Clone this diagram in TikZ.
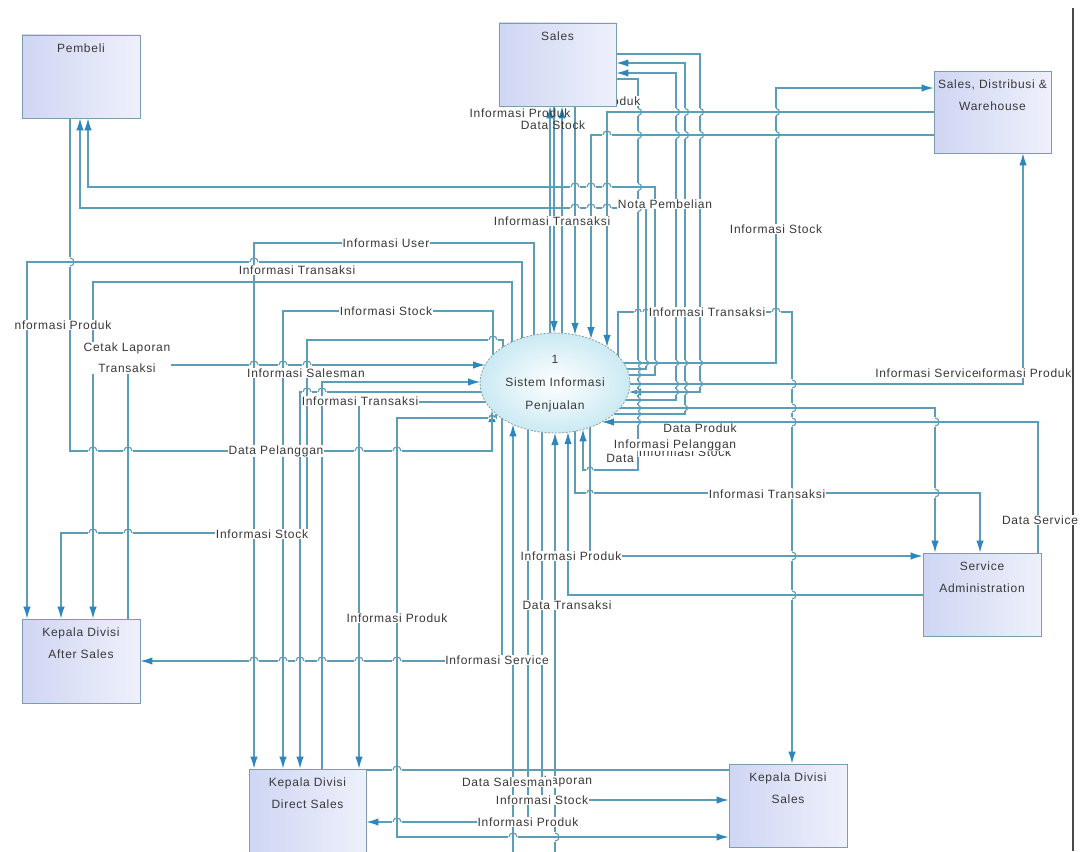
\documentclass[tikz,border=0pt]{standalone}
\usepackage{fontspec}
\setmainfont{Liberation Sans}[LetterSpace=6]
\usetikzlibrary{arrows.meta,calc,shapes.geometric}

\definecolor{flowc}{HTML}{5C9EB7}
\definecolor{tipc}{HTML}{2C87BF}
\definecolor{boxline}{HTML}{7C9DAE}
\definecolor{boxl}{HTML}{CFD6F3}
\definecolor{boxr}{HTML}{EEF0FB}
\definecolor{ellf}{HTML}{CBEAF3}
\definecolor{ellc}{HTML}{8E9CA2}
\definecolor{txt}{HTML}{383838}
\definecolor{framec}{HTML}{4A4A4A}

\newcommand\lbfont{\fontsize{12}{14}\selectfont}

% points on the process ellipse, given an offset from its centre
\newcommand\eTop[2]{\coordinate (#1) at ($(sis.center)+({#2},{-50*sqrt(1-((#2)/75)^2)})$);}
\newcommand\eBot[2]{\coordinate (#1) at ($(sis.center)+({#2},{50*sqrt(1-((#2)/75)^2)})$);}
\newcommand\eLft[2]{\coordinate (#1) at ($(sis.center)+({-75*sqrt(1-((#2)/50)^2)},{#2})$);}
\newcommand\eRgt[2]{\coordinate (#1) at ($(sis.center)+({75*sqrt(1-((#2)/50)^2)},{#2})$);}

% line jumps: horizontal line bridging a vertical one / vertical bridging a horizontal one
\newcommand\hopH[3][4]{%
  \fill[white] ({#2-#1-0.6},{#3-1.3}) rectangle ({#2+#1+0.6},{#3+1.3});
  \draw[flow] (#2,{#3-#1-2}) -- (#2,{#3+#1+2});
  \draw[flow] ({#2-#1},#3) .. controls ({#2-#1},{#3-1.33*#1}) and ({#2+#1},{#3-1.33*#1}) .. ({#2+#1},#3);}
\newcommand\hopV[3][4]{%
  \fill[white] ({#2-1.3},{#3-#1-0.6}) rectangle ({#2+1.3},{#3+#1+0.6});
  \draw[flow] ({#2-#1-2},#3) -- ({#2+#1+2},#3);
  \draw[flow] (#2,{#3-#1}) .. controls ({#2+1.33*#1},{#3-#1}) and ({#2+1.33*#1},{#3+#1}) .. (#2,{#3+#1});}

\pgfdeclarelayer{lines}
\pgfdeclarelayer{labels}
\pgfsetlayers{lines,labels,main}

\tikzset{
  flow/.style={draw=flowc, line width=1.15pt},
  arr/.style={-{Latex[length=12pt,width=7.5pt,color=tipc]}},
  ent/.style={rectangle, draw=boxline, line width=0.9pt, left color=boxl, right color=boxr, inner sep=0pt},
  etext/.style={anchor=north, align=center, font=\fontsize{12}{22}\selectfont, text=txt, inner sep=0pt},
  proc/.style={ellipse, minimum width=150pt, minimum height=100pt, inner sep=0pt,
    draw=ellc, line width=0.8pt, dash pattern=on 2pt off 1.5pt, inner color=white, outer color=ellf},
  lbl/.style={fill=white, inner sep=0.7pt, font=\lbfont, text=txt},
  lblnf/.style={inner sep=0.7pt, font=\lbfont, text=txt},
}

\begin{document}
\begin{tikzpicture}[x=1pt,y=-1pt]
\useasboundingbox (0,0) rectangle (1091,851);

% ---------- entities and process ----------
\node[ent, minimum width=118pt, minimum height=83pt] (pembeli) at (81,76.5) {};
\node[ent, minimum width=117pt, minimum height=83pt] (sales) at (557.5,64.5) {};
\node[ent, minimum width=117pt, minimum height=82pt] (sdw) at (992.5,112) {};
\node[ent, minimum width=118pt, minimum height=84pt] (kdas) at (81,661) {};
\node[ent, minimum width=117pt, minimum height=96pt] (kdds) at (307.5,817) {};
\node[ent, minimum width=118pt, minimum height=83pt] (kds) at (788,805.5) {};
\node[ent, minimum width=118pt, minimum height=83pt] (sa) at (982,594.5) {};
\node[proc] (sis) at (555,383) {};

\node[etext] (pembeli-t) at ([yshift=-9pt]pembeli.north) {Pembeli};
\node[etext] (sales-t) at ([yshift=-9pt]sales.north) {Sales};
\node[etext] (sdw-t) at ([yshift=-9pt]sdw.north) {Sales, Distribusi \&\\Warehouse};
\node[etext] (kdas-t) at ([yshift=-9pt]kdas.north) {Kepala Divisi\\After Sales};
\node[etext] (kdds-t) at ([yshift=-9pt]kdds.north) {Kepala Divisi\\Direct Sales};
\node[etext] (kds-t) at ([yshift=-9pt]kds.north) {Kepala Divisi\\Sales};
\node[etext] (sa-t) at ([yshift=-9pt]sa.north) {Service\\Administration};
\node[align=center, font=\fontsize{12}{23}\selectfont, text=txt, inner sep=0pt] (sis-t) at ([yshift=-1pt]sis.center) {1\\Sistem Informasi\\Penjualan};

% ---------- ports on the ellipse ----------
\eTop{t493}{-62}\eTop{t503}{-52}\eTop{t512}{-43}\eTop{t522}{-33}\eTop{t534}{-21}
\eTop{t550}{-5}\eTop{t554}{-1}\eTop{t562}{7}\eTop{t575}{20}\eTop{t591}{36}\eTop{t607}{52}\eTop{t618}{63}
\eLft{l365}{-18}\eLft{l382}{-1}\eLft{l392}{9}\eLft{l402}{19}
\eBot{b492}{-63}\eBot{b496}{-59}\eBot{b502}{-53}\eBot{b513}{-42}\eBot{b528}{-27}\eBot{b542}{-13}
\eBot{b555}{0}\eBot{b568}{13}\eBot{b575}{20}\eBot{b583}{28}\eBot{b590}{35}
\eRgt{r363}{-20}\eRgt{r369}{-14}\eRgt{r375}{-8}\eRgt{r384}{1}\eRgt{r392}{9}
\eRgt{r400}{17}\eRgt{r408}{25}\eRgt{r414}{31}\eRgt{r422}{39}

\begin{pgfonlayer}{lines}
\fill[white] (0,0) rectangle (1091,851);
\draw[framec, line width=1.3pt] (1073,8) -- (1073,851);

% Sales
\draw[flow,arr] (t550) -- (550,0 |- sales.south);
\draw[flow,arr] (554,0 |- sales.south) -- (t554);
\draw[flow,arr] (t562) -- (562,0 |- sales.south);
\draw[flow,arr] (575,0 |- sales.south) -- (t575);
\draw[flow,arr] (sales.east |- 0,54) -| (700,392) -- (r392);
\draw[flow,arr] (r400) -| (676,73) -- (sales.east |- 0,73);
\draw[flow,arr] (r414) -| (685,63) -- (sales.east |- 0,63);
\draw[flow,arr] (sales.east |- 0,79) -| (638,470) -- (583,470) -- (b583);

% Sales, Distribusi & Warehouse
\draw[flow,arr] (r363) -| (776,88) -- (sdw.west |- 0,88);
\draw[flow,arr] (sdw.west |- 0,112) -| (t607);
\draw[flow,arr] (sdw.west |- 0,135) -| (t591);
\draw[flow,arr] (r384) -| (1023,0 |- sdw.south);

% Pembeli
\draw[flow,arr] (70,0 |- pembeli.south) |- (492,451) -- (b492);
\draw[flow,arr] (r375) -| (655,187) -| (88,0 |- pembeli.south);
\draw[flow,arr] (r369) -| (646,208) -| (80,0 |- pembeli.south);

% Kepala Divisi After Sales
\draw[flow,arr] (t522) |- (27,262) -- (27,0 |- kdas.north);
\draw[flow,arr] (t503) |- (307,340) |- (61,533) -- (61,0 |- kdas.north);
\draw[flow,arr] (t512) |- (93,282) -- (93,0 |- kdas.north);
\draw[flow,arr] (128,0 |- kdas.north) |- (l365);
\draw[flow,arr] (b502) |- (kdas.east |- 0,661);

% Kepala Divisi Direct Sales
\draw[flow,arr] (t534) |- (254,243) -- (254,0 |- kdds.north);
\draw[flow,arr] (t493) |- (283,311) -- (283,0 |- kdds.north);
\draw[flow,arr] (l392) -| (300,0 |- kdds.north);
\draw[flow,arr] (322,0 |- kdds.north) |- (l382);
\draw[flow,arr] (l402) -| (359,0 |- kdds.north);
\draw[flow,arr] (b528) |- (kdds.east |- 0,822);
\draw[flow] (kdds.east |- 0,770) -- (kds.west |- 0,770);
\draw[flow,arr] (320,0 |- kdds.south) -- (320,885) -| (b513);
\draw[flow,arr] (340,0 |- kdds.south) -- (340,895) -| (b555);

% Kepala Divisi Sales
\draw[flow,arr] (t618) |- (792,312) -- (792,0 |- kds.north);
\draw[flow,arr] (b542) |- (kds.west |- 0,800);
\draw[flow,arr] (b496) |- (397,418) |- (kds.west |- 0,837);

% Service Administration
\draw[flow,arr] (r408) -| (935,0 |- sa.north);
\draw[flow,arr] (b575) |- (980,493) -- (980,0 |- sa.north);
\draw[flow,arr] (1038,0 |- sa.north) |- (r422);
\draw[flow,arr] (b590) |- (sa.west |- 0,556);
\draw[flow,arr] (sa.west |- 0,595) -| (b568);

% ---------- line jumps ----------
\foreach \x in {638,676,685,700,776} {\hopV[3.5]{\x}{112}\hopV[3.5]{\x}{135}}
\hopH{607}{135}
\foreach \x in {575,591,607} {\hopH{\x}{187}\hopH{\x}{208}}
\hopV[3.5]{638}{187}\hopV[3.5]{638}{208}
\hopH{254}{262}\hopV{70}{262}
\hopH[3]{638}{312}\hopH[3]{646}{312}\hopH{776}{312}
\hopH{493}{340}
\foreach \x in {254,283,307} {\hopH{\x}{365}}
\hopH{307}{392}\hopH{322}{392}
\hopH[3]{492}{418}
\foreach \x in {93,128,359,397} {\hopH{\x}{451}}
\hopH{93}{533}\hopH{128}{533}
\foreach \x in {254,283,300,322,359,397} {\hopH{\x}{661}}
\hopH{397}{770}\hopH{397}{822}
\hopH{513}{837}\hopV{555}{837}
\foreach \x in {646,655,676,685,700} {\hopV[2.5]{\x}{363}}
\foreach \y in {363,369,375,384,392,400,408,414,422} {\hopV[2.5]{638}{\y}}
\foreach \x in {676,685,700} {\hopV[2.5]{\x}{384}}
\hopV[2.5]{676}{392}\hopV[2.5]{685}{392}\hopV[2.5]{685}{408}
\foreach \y in {384,408,422,493,556,595} {\hopV{792}{\y}}
\hopV{935}{422}\hopV{935}{493}
\hopH[3]{590}{470}\hopH[3]{590}{493}
\end{pgfonlayer}

% ---------- flow labels ----------
\begin{pgfonlayer}{labels}
\node[lblnf] (lb-ip1) at (520,113) {Informasi Produk};
\node[lbl] (lb-ip2) at (590,101) {Informasi Produk};
\node[lblnf] (lb-ds) at (553,125) {Data Stock};
\node[lbl] (lb-np) at (665,204) {Nota Pembelian};
\node[lbl] (lb-it1) at (552,221) {Informasi Transaksi};
\node[lbl] (lb-is1) at (776,229) {Informasi Stock};
\node[lbl] (lb-iu) at (386,243) {Informasi User};
\node[lbl] (lb-it2) at (297,270) {Informasi Transaksi};
\node[lbl] (lb-is2) at (386,311) {Informasi Stock};
\node[lbl] (lb-it3) at (707,312) {Informasi Transaksi};
\node[lbl] (lb-ip3) at (63,325) {nformasi Produk};
\node[lbl, align=center, font=\fontsize{12}{21}\selectfont] (lb-cl) at (127,358) {Cetak Laporan\\Transaksi};
\node[lbl] (lb-isl) at (306,373) {Informasi Salesman};
\node[lbl] (lb-ipd) at (1021,373) {Informasi Produk};
\node[lbl] (lb-isv) at (927,373) {Informasi Service};
\node[lbl] (lb-it4) at (360,401) {Informasi Transaksi};
\node[lbl] (lb-dp) at (700,428) {Data Produk};
\node[lbl] (lb-is3) at (685,452) {Informasi Stock};
\node[lbl] (lb-ipl) at (675,445) {Informasi Pelanggan};
\node[lbl] (lb-data) at (620,458) {Data};
\node[lbl] (lb-dpl) at (276,451) {Data Pelanggan};
\node[lbl] (lb-it5) at (767,494) {Informasi Transaksi};
\node[lbl] (lb-dsv) at (1040,520) {Data Service};
\node[lbl] (lb-is4) at (262,534) {Informasi Stock};
\node[lbl] (lb-ip4) at (571,556) {Informasi Produk};
\node[lbl] (lb-dt) at (567,605) {Data Transaksi};
\node[lbl] (lb-ip5) at (397,618) {Informasi Produk};
\node[lbl] (lb-isv2) at (497,660) {Informasi Service};
\node[lbl] (lb-lap) at (568,782) {Laporan};
\node[lbl] (lb-dsl) at (507,782) {Data Salesman};
\node[lbl] (lb-is5) at (542,800) {Informasi Stock};
\node[lbl] (lb-ip6) at (528,822) {Informasi Produk};
\end{pgfonlayer}
\end{tikzpicture}
\end{document}
